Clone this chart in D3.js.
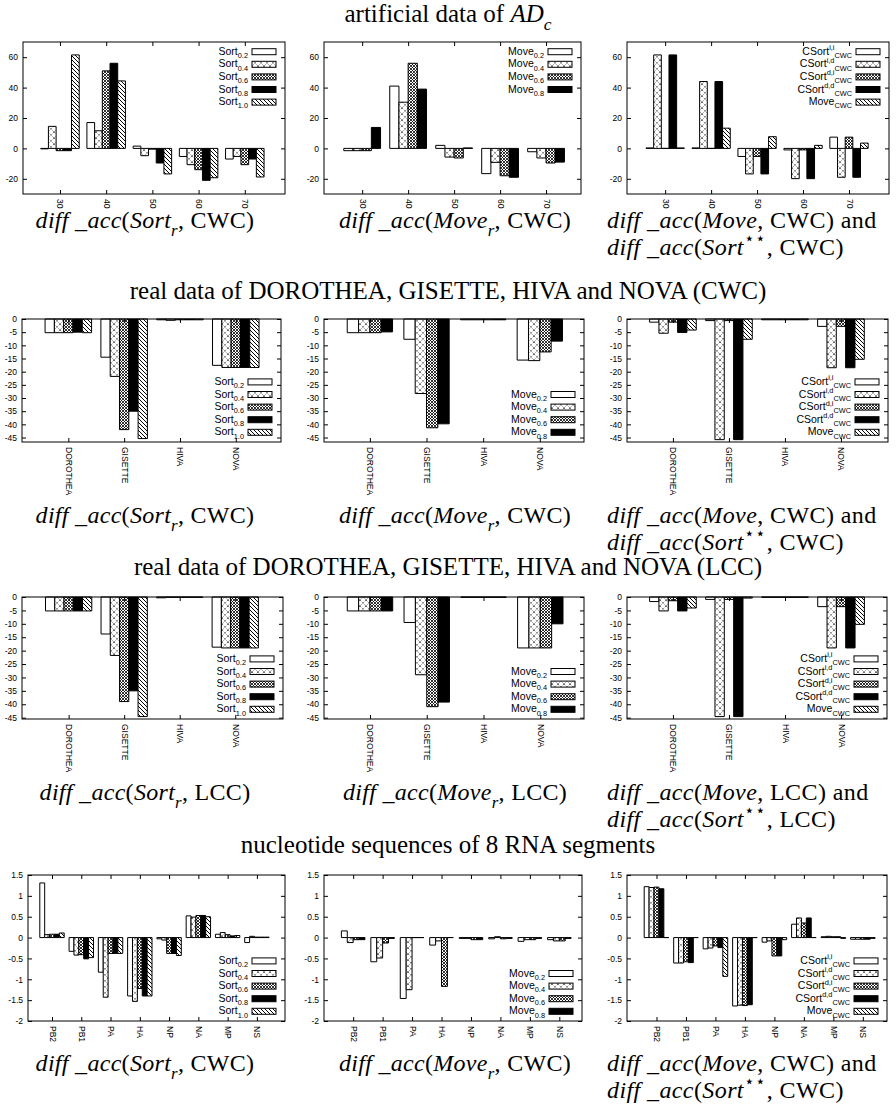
<!DOCTYPE html>
<html>
<head>
<meta charset="utf-8">
<script src="https://cdn.jsdelivr.net/npm/d3@7"></script>
<style>
  body { margin: 0; background: #fff; }
  svg { display: block; }
</style>
</head>
<body>
<svg id="fig" width="896" height="1111"></svg>
<script>
// ---------- categories ----------
const sizeCats = ["30", "40", "50", "60", "70"];
const realCats = ["DOROTHEA", "GISETTE", "HIVA", "NOVA"];
const rnaCats  = ["PB2", "PB1", "PA", "HA", "NP", "NA", "MP", "NS"];

// ---------- series (legend subscripts / superscripts) ----------
const sortSeries  = ["0.2", "0.4", "0.6", "0.8", "1.0"];
const moveSeries  = ["0.2", "0.4", "0.6", "0.8"];
const csortSeries = ["i,i", "i,d", "d,i", "d,d"];

// ---------- tick labels ----------
const adTicks   = [-20, 0, 20, 40, 60];
const realTicks = [0, -5, -10, -15, -20, -25, -30, -35, -40, -45];
const rnaTicks  = [1.5, 1, 0.5, 0, -0.5, -1, -1.5, -2];

// ---------- values: one row per category, one entry per series ----------
const adSort = [
  [-0.3, 14.5, -1.5, -1.5, 61.5],
  [17, 11.6, 51, 56, 44.4],
  [1.5, -4.8, -0.5, -9.6, -16.8],
  [-5.3, -10.7, -14, -21, -19.3],
  [-7, -5.3, -10.7, -7, -18.8]
];
const adMove = [
  [-1.5, -1.5, -1.5, 13.8],
  [41, 30.4, 56, 39],
  [2, -5.7, -6.3, 0.3],
  [-16.6, -9.2, -18, -19],
  [-2.2, -6.3, -9.6, -9]
];
const adCsort = [
  [0.3, 61.5, 0, 61.5, 0.3],
  [0.3, 44, 0, 44, 13.3],
  [-5.3, -16.8, -5.3, -16.8, 7.7],
  [-1, -19.9, -1, -19.9, 2],
  [7.4, -19, 7.4, -19, 3.5]
];
const cwcSort = [
  [-5.2, -5.2, -5.2, -5.0, -5.2],
  [-14.5, -21.8, -42, -35, -45.4],
  [-0.3, -0.5, -0.3, -0.3, -0.3],
  [-17.6, -18.4, -18.4, -18.4, -18.4]
];
const cwcMove = [
  [-5.2, -5.2, -5.2, -4.9],
  [-7.7, -28.3, -41.3, -39.8],
  [-0.3, -0.3, -0.3, -0.3],
  [-15.6, -15.8, -12.5, -8.4]
];
const cwcCsort = [
  [-1.2, -5.4, -1.2, -5.1, -4.2],
  [-0.6, -45.8, -0.6, -45.8, -7.7],
  [-0.3, -0.3, -0.3, -0.3, -0.3],
  [-2.8, -18.5, -2.8, -18.5, -15.3]
];
const lccSort = [
  [-5.2, -5.2, -5.2, -5.2, -5.2],
  [-13.8, -21.8, -39, -35, -44.6],
  [-0.3, -0.1, -0.1, -0.1, -0.1],
  [-18.7, -19, -19, -19, -19]
];
const lccMove = [
  [-5.2, -5.2, -5.2, -5.2],
  [-9.5, -29, -40.9, -39.2],
  [-0.1, -0.1, -0.1, -0.1],
  [-19, -19, -19, -10]
];
const lccCsort = [
  [-1.7, -5.2, -1.4, -5.2, -4.1],
  [-0.9, -44.6, -0.9, -44.6, -0.4],
  [-0.1, -0.1, -0.1, -0.1, -0.1],
  [-3.6, -19, -3.6, -19, -10.2]
];
const rnaSort = [
  [1.31, 0.07, 0.08, 0.08, 0.11],
  [-0.33, -0.42, -0.41, -0.51, -0.48],
  [-0.83, -1.43, -0.38, -0.38, -0.38],
  [-1.4, -1.53, -1.22, -1.4, -1.4],
  [-0.03, -0.06, -0.38, -0.38, -0.43],
  [0.52, 0.49, 0.53, 0.53, 0.5],
  [0.08, 0.12, 0.07, 0.04, 0.05],
  [-0.12, 0.03, 0.01, 0.01, 0.01]
];
const rnaMove = [
  [0.16, -0.12, -0.05, -0.05],
  [-0.58, -0.49, -0.13, -0.02],
  [-1.46, -1.25, 0, 0],
  [-0.18, -0.08, -1.17, 0],
  [-0.02, -0.02, -0.05, -0.05],
  [-0.03, 0.02, -0.03, -0.02],
  [-0.09, -0.05, -0.05, -0.02],
  [-0.05, -0.08, -0.08, -0.02]
];
const rnaCsort = [
  [1.22, 1.2, 1.21, 1.17, 0],
  [-0.61, -0.61, -0.58, -0.6, 0],
  [-0.27, -0.25, -0.2, -0.24, -0.93],
  [-1.64, -1.62, -1.63, -1.61, 0],
  [-0.11, -0.08, -0.44, -0.44, -0.05],
  [0.32, 0.47, 0.35, 0.47, 0],
  [0.02, 0.03, 0.02, 0.02, -0.02],
  [-0.04, -0.04, -0.04, -0.04, -0.02]
];

// ---------- styling ----------
const SANS = "'Liberation Sans', Arial, Helvetica, sans-serif";
const SERIF = "'Liberation Serif', 'Times New Roman', serif";
const fills = ["#fff", "url(#pDot)", "url(#pCross)", "#000", "url(#pDiag)"];

const svg = d3.select("#fig");
const defs = svg.append("defs");

function pattern(id, size, d, sw, dash) {
  const p = defs.append("pattern").attr("id", id)
    .attr("patternUnits", "userSpaceOnUse")
    .attr("width", size).attr("height", size);
  p.append("rect").attr("width", size).attr("height", size).attr("fill", "#fff");
  const path = p.append("path").attr("d", d).attr("stroke", "#000")
    .attr("stroke-width", sw).attr("fill", "none");
  if (dash) path.attr("stroke-dasharray", dash);
}
pattern("pDot", 6, "M0,0L6,6M6,0L0,6", 0.8, "1,1.6");
pattern("pCross", 3, "M0,0L3,3M3,0L0,3", 0.8);
pattern("pDiag", 4, "M0,0L4,4M-1,3L1,5M3,-1L5,1", 1);

// rich text: parts = [[text, "i sub sup"], ...]
function rich(textSel, parts, size) {
  let off = 0;
  parts.forEach(([t, st]) => {
    const flags = (st || "").split(" ");
    const ts = textSel.append("tspan").text(t);
    let target = 0, fs = size;
    if (flags.includes("sub")) { target = size * 0.32; fs = size * 0.7; }
    if (flags.includes("sup")) { target = -size * 0.42; fs = size * 0.7; }
    ts.attr("font-size", fs);
    if (flags.includes("i")) ts.attr("font-style", "italic");
    if (target !== off) ts.attr("dy", target - off);
    off = target;
  });
}

// ---------- rows and panels ----------
const rows = [
  { y0: 42, y1: 194, yDomain: [-30, 70], ticks: adTicks, cats: sizeCats, key: "top",
    fmt: d => d, metric: "CWC", capY: 228,
    panels: [
      { kind: "sort", x0: 23, x1: 285, xd: [-0.8, 4.87], values: adSort },
      { kind: "move", x0: 324, x1: 581, xd: [-0.83, 4.76], values: adMove },
      { kind: "csort", x0: 627, x1: 889, xd: [-0.83, 4.87], values: adCsort }
    ] },
  { y0: 319, y1: 442, yDomain: [-46.7, 0], ticks: realTicks, cats: realCats, key: "bottom",
    fmt: d => d, metric: "CWC", capY: 523,
    panels: [
      { kind: "sort", x0: 22, x1: 281, xd: [-0.83, 3.81], values: cwcSort },
      { kind: "move", x0: 324, x1: 584, xd: [-0.81, 3.78], values: cwcMove },
      { kind: "csort", x0: 627, x1: 888, xd: [-0.82, 3.84], values: cwcCsort }
    ] },
  { y0: 597, y1: 719, yDomain: [-45.5, 0], ticks: realTicks, cats: realCats, key: "bottom",
    fmt: d => d, metric: "LCC", capY: 800,
    panels: [
      { kind: "sort", x0: 22, x1: 283, xd: [-0.84, 3.86], values: lccSort },
      { kind: "move", x0: 324, x1: 584, xd: [-0.81, 3.77], values: lccMove },
      { kind: "csort", x0: 627, x1: 887, xd: [-0.82, 3.82], values: lccCsort }
    ] },
  { y0: 875, y1: 1021, yDomain: [-2, 1.5], ticks: rnaTicks, cats: rnaCats, key: "bottom",
    fmt: d => d, metric: "CWC", capY: 1071,
    panels: [
      { kind: "sort", x0: 28, x1: 285, xd: [-0.82, 7.96], values: rnaSort },
      { kind: "move", x0: 324, x1: 582, xd: [-0.99, 7.77], values: rnaMove },
      { kind: "csort", x0: 627, x1: 887, xd: [-1.0, 7.82], values: rnaCsort }
    ] }
];

const titles = [
  { y: 22, parts: [["artificial data of ", ""], ["AD", "i"], ["c", "i sub"]] },
  { y: 299, parts: [["real data of DOROTHEA, GISETTE, HIVA and NOVA (CWC)", ""]] },
  { y: 575, parts: [["real data of DOROTHEA, GISETTE, HIVA and NOVA (LCC)", ""]] },
  { y: 853, parts: [["nucleotide sequences of 8 RNA segments", ""]] }
];

function keyLabels(kind) {
  if (kind === "sort") return sortSeries.map(s => [["Sort", ""], [s, "sub"]]);
  if (kind === "move") return moveSeries.map(s => [["Move", ""], [s, "sub"]]);
  return csortSeries.map(s => [["CSort", ""], [s, "sup"], ["CWC", "sub"]])
    .concat([[["Move", ""], ["CWC", "sub"]]]);
}

function drawPanel(row, p) {
  const g = svg.append("g");
  const x = d3.scaleLinear().domain(p.xd).range([p.x0, p.x1]);
  const y = d3.scaleLinear().domain(row.yDomain).range([row.y1, row.y0]);
  const n = p.values[0].length;
  const bw = 1 / (n + 1);

  // bars (paths so zero-height bars still show as a line)
  p.values.forEach((vals, ci) => {
    vals.forEach((v, si) => {
      const c = ci + (si - (n - 1) / 2) * bw;
      const xa = x(c - bw / 2), xb = x(c + bw / 2);
      g.append("path")
        .attr("d", `M${xa},${y(0)}H${xb}V${y(v)}H${xa}Z`)
        .attr("fill", fills[si])
        .attr("stroke", "#000")
        .attr("stroke-width", 1);
    });
  });

  // axes with inward ticks, mirrored on all sides
  const ax = g.append("g").attr("font-family", SANS);
  const left = ax.append("g").attr("transform", `translate(${p.x0},0)`)
    .call(d3.axisLeft(y).tickValues(row.ticks).tickSize(-4).tickPadding(5).tickFormat(row.fmt));
  ax.append("g").attr("transform", `translate(${p.x1},0)`)
    .call(d3.axisRight(y).tickValues(row.ticks).tickSize(-4).tickFormat(""));
  const idx = d3.range(row.cats.length);
  const bottom = ax.append("g").attr("transform", `translate(0,${row.y1})`)
    .call(d3.axisBottom(x).tickValues(idx).tickSize(-4).tickFormat(i => row.cats[i]));
  ax.append("g").attr("transform", `translate(0,${row.y0})`)
    .call(d3.axisTop(x).tickValues(idx).tickSize(-4).tickFormat(""));
  ax.selectAll(".domain").remove();
  ax.selectAll(".tick line").attr("stroke", "#000");
  left.selectAll("text").attr("font-size", 8.5).attr("fill", "#000");
  bottom.selectAll("text")
    .attr("font-size", 8.5).attr("fill", "#000")
    .attr("text-anchor", "start")
    .attr("x", 5).attr("y", 0).attr("dy", "0.35em")
    .attr("transform", "rotate(90)");

  // frame
  g.append("rect").attr("x", p.x0).attr("y", row.y0)
    .attr("width", p.x1 - p.x0).attr("height", row.y1 - row.y0)
    .attr("fill", "none").attr("stroke", "#000").attr("stroke-width", 1);

  // key
  const labels = keyLabels(p.kind);
  const step = 12.6;
  const firstY = row.key === "top" ? row.y0 + 9.7 : row.y1 - 9.7 - step * (labels.length - 1);
  const bx1 = p.x1 - 9, bx0 = bx1 - 24;
  labels.forEach((parts, i) => {
    const cy = firstY + i * step;
    g.append("rect").attr("x", bx0).attr("y", cy - 3).attr("width", bx1 - bx0).attr("height", 6)
      .attr("fill", fills[i]).attr("stroke", "#000").attr("stroke-width", 1);
    const t = g.append("text").attr("x", bx0 - 4).attr("y", cy + 3)
      .attr("text-anchor", "end").attr("font-family", SANS).attr("fill", "#000");
    rich(t, parts, 10.5);
  });
}

rows.forEach(row => row.panels.forEach(p => drawPanel(row, p)));

// titles
const TITLE = 25;
titles.forEach(tt => {
  const t = svg.append("text").attr("x", 448).attr("y", tt.y)
    .attr("text-anchor", "middle").attr("font-family", SERIF).attr("fill", "#000");
  rich(t, tt.parts, TITLE);
});

// captions under each panel
const CAP = 24;
rows.forEach(row => {
  const m = row.metric;
  const t1 = svg.append("text").attr("x", 145).attr("y", row.capY)
    .attr("text-anchor", "middle").attr("font-family", SERIF).attr("letter-spacing", 0.3);
  rich(t1, [["diff _acc", "i"], ["(", ""], ["Sort", "i"], ["r", "i sub"], [", " + m + ")", ""]], CAP);
  const t2 = svg.append("text").attr("x", 455).attr("y", row.capY)
    .attr("text-anchor", "middle").attr("font-family", SERIF).attr("letter-spacing", 0.3);
  rich(t2, [["diff _acc", "i"], ["(", ""], ["Move", "i"], ["r", "i sub"], [", " + m + ")", ""]], CAP);
  const t3 = svg.append("text").attr("x", 607).attr("y", row.capY - 0.5)
    .attr("text-anchor", "start").attr("font-family", SERIF).attr("letter-spacing", 0.4);
  rich(t3, [["diff _acc", "i"], ["(", ""], ["Move", "i"], [", " + m + ") and", ""]], CAP);
  const t4 = svg.append("text").attr("x", 607).attr("y", row.capY + 26.5)
    .attr("text-anchor", "start").attr("font-family", SERIF).attr("letter-spacing", 0.4);
  rich(t4, [["diff _acc", "i"], ["(", ""], ["Sort", "i"], ["\u22C6\u22C6", "sup"], [", " + m + ")", ""]], CAP);
});
</script>
</body>
</html>
